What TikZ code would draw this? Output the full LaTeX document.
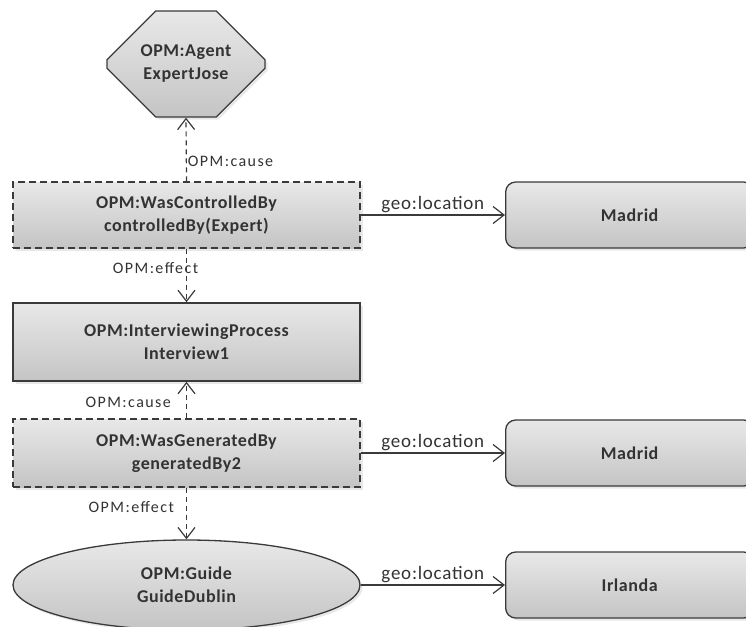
\documentclass[tikz,border=0pt]{standalone}
\usepackage{fontspec}
\setmainfont{Carlito}
\newfontfamily\nodefont[LetterSpace=3]{Carlito}
\newfontfamily\opmfont[LetterSpace=9]{Carlito}
\newfontfamily\geofont[LetterSpace=4]{Carlito}
\usetikzlibrary{arrows.meta,shapes.geometric,shapes.misc,shadows}
\definecolor{ink}{HTML}{333333}
\definecolor{edgeline}{HTML}{3A3A3A}
\begin{document}
\begin{tikzpicture}[x=1pt,y=-1pt,
  box/.style={draw=edgeline, line width=1.3pt, top color=white!91!black, bottom color=white!77!black,
    text=ink, font=\nodefont\bfseries\fontsize{18}{23}\selectfont, align=center,
    drop shadow={opacity=0.18, shadow xshift=2.5pt, shadow yshift=-2.5pt}},
  relbox/.style={box, dashed, dash pattern=on 7pt off 4pt, line width=1.2pt, minimum width=347pt},
  procbox/.style={box, line width=1.6pt, minimum width=347pt},
  placebox/.style={box, rounded corners=10pt, minimum width=248pt, minimum height=66pt, anchor=west},
  agentbox/.style={box, chamfered rectangle, chamfered rectangle xsep=31pt, chamfered rectangle ysep=30pt,
    minimum width=158pt, minimum height=106pt, inner sep=0pt},
  artbox/.style={box, ellipse, minimum width=347pt, minimum height=90pt, inner sep=0pt},
  tip/.style={-{Straight Barb[length=11pt,width=17pt,line width=1.2pt]}},
  causal/.style={tip, draw=edgeline, line width=1.2pt, dashed, dash pattern=on 5pt off 4pt},
  geoedge/.style={tip, draw=edgeline, line width=1.4pt},
  opmlab/.style={text=ink, font=\opmfont\fontsize{16}{18}\selectfont, inner sep=1pt},
  geolab/.style={text=ink, font=\geofont\fontsize{19}{21}\selectfont, inner sep=2pt}
]
\useasboundingbox (0,0) rectangle (746,626);
\clip (0,0) rectangle (746,626);

% agents, processes and artifacts
\node[agentbox] (agent) at (186,64) {OPM:Agent\\ExpertJose};
\node[relbox, minimum height=66pt] (ctrl) at (186.5,215) {OPM:WasControlledBy\\controlledBy(Expert)};
\node[procbox, minimum height=78pt] (interview) at (186.5,342) {OPM:InterviewingProcess\\Interview1};
\node[relbox, minimum height=68pt] (gen) at (186.5,453) {OPM:WasGeneratedBy\\generatedBy2};
\node[artbox] (guide) at (186.5,585) {OPM:Guide\\GuideDublin};

% locations
\node[placebox] (mad1) at (505,215) {Madrid};
\node[placebox] (mad2) at (505,453) {Madrid};
\node[placebox] (irl) at (505,585) {Irlanda};

% causal dependencies
\draw[causal] (ctrl.north) -- node[opmlab, pos=0.31, right] {OPM:cause} (agent.south);
\draw[causal] (ctrl.south) -- node[opmlab, pos=0.36, xshift=-31pt] {OPM:effect} (interview.north);
\draw[causal] (gen.north) -- node[opmlab, pos=0.45, left=14pt] {OPM:cause} (interview.south);
\draw[causal] (gen.south) -- node[opmlab, pos=0.38, left=11pt] {OPM:effect} (guide.north);

% locations of the relations and artifacts
\draw[geoedge] (ctrl.east) -- node[geolab, above] {geo:location} (mad1.west);
\draw[geoedge] (gen.east) -- node[geolab, above] {geo:location} (mad2.west);
\draw[geoedge] (guide.east) -- node[geolab, above] {geo:location} (irl.west);
\end{tikzpicture}
\end{document}
